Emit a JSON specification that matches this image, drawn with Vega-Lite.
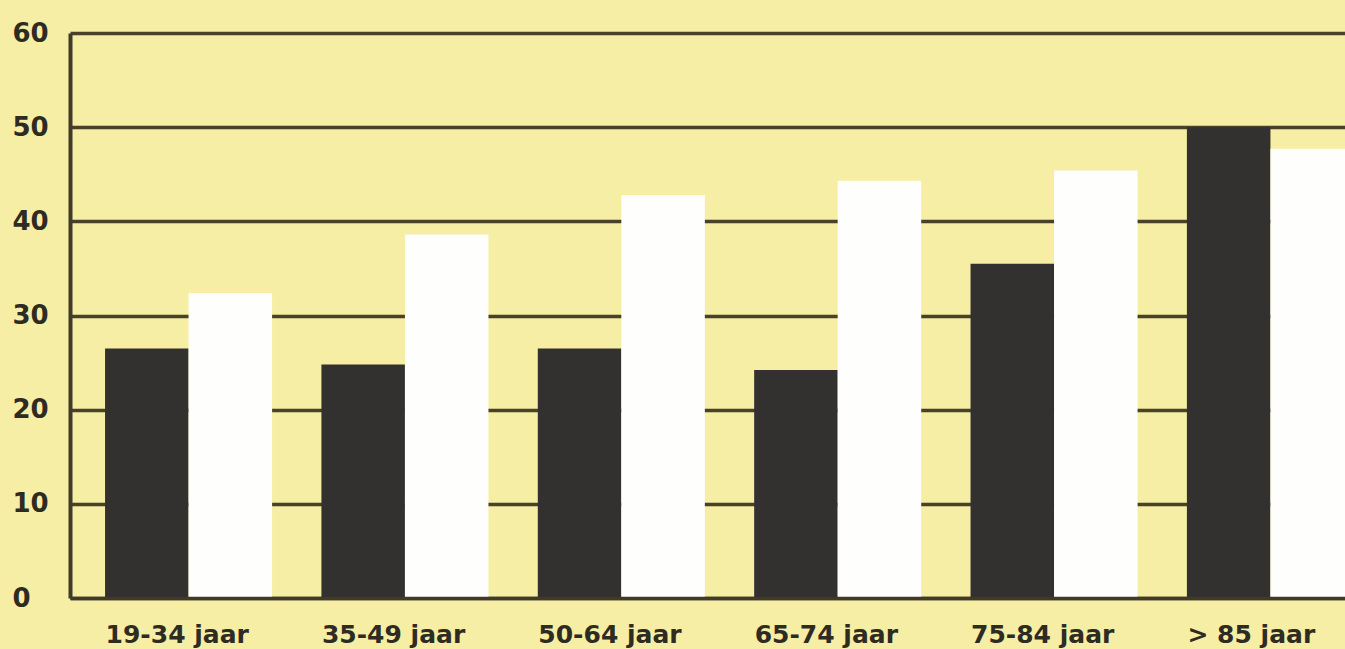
{
  "$schema": "https://vega.github.io/schema/vega-lite/v6.json",
  "autosize": {"type": "none"},
  "padding": {"left": 70, "top": 33, "right": 0, "bottom": 51},
  "width": 1275,
  "height": 565,
  "background": "#F5EEA4",
  "config": {
    "view": {"stroke": null},
    "font": "DejaVu Sans"
  },
  "data": {
    "values": [
      {"leeftijd": "19-34 jaar", "reeks": "A", "waarde": 26.5},
      {"leeftijd": "19-34 jaar", "reeks": "B", "waarde": 32.4},
      {"leeftijd": "35-49 jaar", "reeks": "A", "waarde": 24.8},
      {"leeftijd": "35-49 jaar", "reeks": "B", "waarde": 38.6},
      {"leeftijd": "50-64 jaar", "reeks": "A", "waarde": 26.5},
      {"leeftijd": "50-64 jaar", "reeks": "B", "waarde": 42.8},
      {"leeftijd": "65-74 jaar", "reeks": "A", "waarde": 24.2},
      {"leeftijd": "65-74 jaar", "reeks": "B", "waarde": 44.3},
      {"leeftijd": "75-84 jaar", "reeks": "A", "waarde": 35.5},
      {"leeftijd": "75-84 jaar", "reeks": "B", "waarde": 45.4},
      {"leeftijd": "> 85 jaar", "reeks": "A", "waarde": 50.0},
      {"leeftijd": "> 85 jaar", "reeks": "B", "waarde": 47.7}
    ]
  },
  "mark": {"type": "bar", "clip": true},
  "encoding": {
    "x": {
      "field": "leeftijd",
      "type": "nominal",
      "sort": ["19-34 jaar", "35-49 jaar", "50-64 jaar", "65-74 jaar", "75-84 jaar", "> 85 jaar"],
      "scale": {"range": [0, 1319], "paddingInner": 0.228, "paddingOuter": 0.162},
      "axis": {
        "title": null,
        "zindex": 1,
        "ticks": false,
        "tickSize": 0,
        "domainColor": "#3f3a2a",
        "domainWidth": 3.5,
        "labelAngle": 0,
        "labelAlign": "left",
        "labelOffset": -83,
        "labelBaseline": "alphabetic",
        "labelPadding": 44,
        "labelFont": "DejaVu Sans",
        "labelFontWeight": "bold",
        "labelFontSize": 25,
        "labelColor": "#2d2b22",
        "grid": false
      }
    },
    "xOffset": {"field": "reeks", "type": "nominal", "scale": {"paddingInner": 0, "paddingOuter": 0}},
    "y": {
      "field": "waarde",
      "type": "quantitative",
      "scale": {"domain": [0, 60], "nice": false},
      "axis": {
        "title": null,
        "zindex": 0,
        "values": [0, 10, 20, 30, 40, 50, 60],
        "ticks": false,
        "tickSize": 0,
        "domainColor": "#3f3a2a",
        "domainWidth": 4,
        "grid": true,
        "gridColor": "#4a4228",
        "gridWidth": 3.5,
        "gridOpacity": 1,
        "labelAlign": "left",
        "labelBaseline": "middle",
        "labelPadding": 58,
        "labelFont": "DejaVu Sans",
        "labelFontWeight": "bold",
        "labelFontSize": 26,
        "labelColor": "#2d2b22"
      }
    },
    "color": {
      "field": "reeks",
      "type": "nominal",
      "scale": {"domain": ["A", "B"], "range": ["#323130", "#FEFEFC"]},
      "legend": null
    }
  }
}
